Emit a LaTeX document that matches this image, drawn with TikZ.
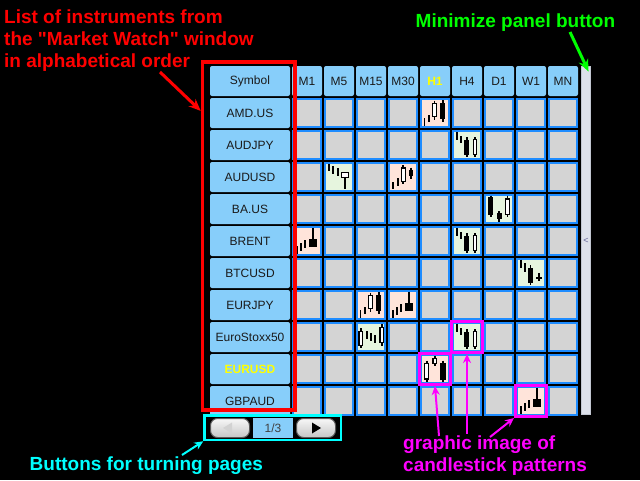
\documentclass[tikz,border=0pt]{standalone}
\usepackage{fontspec}
\setmainfont{Liberation Sans}
\newfontfamily\notefont{Liberation Sans}
\usetikzlibrary{arrows.meta,positioning,calc}

\definecolor{headblue}{HTML}{87CEFA}
\definecolor{cellgray}{HTML}{D4D4D4}
\definecolor{cellblue}{HTML}{1E8CFF}
\definecolor{bull}{RGB}{255,228,218}
\definecolor{bear}{RGB}{230,245,222}
\definecolor{hot}{HTML}{FFFF00}
\definecolor{headtext}{HTML}{1A1A1A}
\definecolor{scrollgray}{HTML}{DDE1EA}
\definecolor{scrolledge}{HTML}{C2C7D2}
\definecolor{notered}{HTML}{FF0000}
\definecolor{notegreen}{HTML}{00FF00}
\definecolor{notecyan}{HTML}{00FFFF}
\definecolor{notemag}{HTML}{FF00FF}

\tikzset{
  cell/.style={draw=cellblue,fill=cellgray,line width=2pt,minimum width=28pt,minimum height=28pt,inner sep=0pt},
  head/.style={fill=headblue,rounded corners=2pt,minimum width=30pt,minimum height=30pt,inner sep=0pt,text=headtext,font=\fontsize{12}{14}\selectfont},
  sym/.style={head,minimum width=80pt},
  hilite/.style={draw=notemag,line width=3pt,minimum width=31pt,minimum height=31pt,inner sep=0pt},
  wick/.style={line width=1.8pt,black},
  wbody/.style={fill=white,draw=black,line width=1.2pt},
  bbody/.style={fill=black},
  btn/.style={draw=gray!70!black,line width=1pt,rounded corners=7pt,top color=gray!6,bottom color=gray!45,minimum width=39pt,minimum height=19pt,inner sep=0pt},
  pagenum/.style={fill=headblue,minimum width=40pt,minimum height=20pt,inner sep=0pt,text=darkgray,font=\fontsize{12}{14}\selectfont},
  scrollbar/.style={fill=scrollgray,draw=scrolledge,line width=0.8pt,minimum width=9.2pt,minimum height=348pt,inner sep=0pt,text=gray!80!blue,font=\fontsize{9}{9}\selectfont},
  note/.style={font=\notefont\bfseries\fontsize{19}{22}\selectfont,align=left,inner sep=0pt,anchor=north west},
  redarrow/.style={draw=notered,line width=3pt,-{Stealth[length=12pt,width=10pt]}},
  greenarrow/.style={draw=notegreen,line width=3pt,-{Stealth[length=12pt,width=10pt]}},
  cyanarrow/.style={draw=notecyan,line width=2pt,-{Stealth[length=9pt,width=8pt]}},
  magarrow/.style={draw=notemag,line width=2pt,-{Stealth[length=9pt,width=8pt]}}
}

% candle pieces, cell-local (x right, y down)
\newcommand{\stick}[3]{\draw[wick] (#1,#2) -- (#1,#3);}
\newcommand{\wcdl}[6]{\draw[wick] (#1,#3) -- (#1,#6); \filldraw[wbody] (#1-#2/2,#4) rectangle (#1+#2/2,#5);}
\newcommand{\bcdl}[6]{\draw[wick] (#1,#3) -- (#1,#6); \fill[bbody] (#1-#2/2,#4) rectangle (#1+#2/2,#5);}

\newcommand{\icRiseTwo}{\stick{4.5}{20}{28}\stick{9.2}{17}{24}\wcdl{14.5}{3.6}{2.5}{5.3}{18.7}{21.5}\bcdl{22.7}{5}{2}{4.5}{20.5}{24}}
\newcommand{\icFallTwo}{\stick{4.7}{2.3}{10}\stick{9}{6}{13.3}\bcdl{14.8}{5}{7.3}{10}{25}{27.3}\wcdl{23}{3.6}{7}{9.3}{24.4}{27.3}}
\newcommand{\icHang}{\stick{4.7}{2}{8.7}\stick{9.3}{4}{12}\stick{13.7}{6.3}{14}\wcdl{21}{6.6}{10.3}{10.3}{15.7}{27.3}}
\newcommand{\icRiseStar}{\stick{5.3}{20.3}{27.3}\stick{9.7}{16.3}{23.7}\wcdl{15.2}{3.8}{3}{5.9}{19.1}{22}\bcdl{23.2}{4.3}{5.7}{8}{14}{17}}
\newcommand{\icMorning}{\bcdl{6.8}{5}{1.7}{3.3}{21}{22.7}\bcdl{15.2}{5}{17}{19.3}{25.3}{27.7}\wcdl{23.5}{3.8}{1.7}{4.9}{20.4}{22.7}}
\newcommand{\icShoot}{\stick{4.7}{20}{27.7}\stick{8.7}{17.3}{25}\stick{13}{14}{21.7}\bcdl{21.2}{8.2}{1.7}{13.3}{21}{21}}
\newcommand{\icFallCross}{\stick{5}{1.7}{9.7}\stick{9}{5.3}{13.7}\bcdl{14.5}{5.6}{7}{9.7}{24.7}{27}\bcdl{23}{6}{15.3}{18.7}{20.7}{23}}
\newcommand{\icThree}{\wcdl{4.8}{3.8}{6.3}{9.6}{23.1}{26.3}\stick{11}{9}{16.7}\stick{15}{11.3}{19}\stick{19}{13}{20.7}\wcdl{25.8}{3.8}{2}{5.3}{20.7}{23.7}}
\newcommand{\icEvening}{\wcdl{6.7}{3.8}{6.7}{9.6}{25}{27.5}\wcdl{14.8}{3.8}{1.7}{4.6}{9.4}{12.3}\bcdl{22.8}{5.5}{6.7}{9}{25.7}{27.5}}

% row, column, fill, icon
\newcommand{\patcell}[4]{%
  \begin{scope}[shift={(260+32*#2,66+32*#1)}]
    \fill[#3] (2,2) rectangle (28,28);
    #4
  \end{scope}}

\begin{document}
\begin{tikzpicture}[x=1pt,y=-1pt]
\useasboundingbox (0,0) rectangle (640,480);
\fill[black] (0,0) rectangle (640,480);

% header row
\node[sym] (s0) at (250,81) {Symbol};
\foreach \c [count=\i] in {M1,M5,M15,M30,{\color{hot}\bfseries H1},H4,D1,W1,MN}
  \node[head] (h\i) at (275+32*\i,81) {\c};

% symbols and cells
\foreach \s [count=\j] in {AMD.US,AUDJPY,AUDUSD,BA.US,BRENT,BTCUSD,EURJPY,EuroStoxx50,{\color{hot}\bfseries EURUSD},GBPAUD}{
  \node[sym] (s\j) at (250,81+32*\j) {\s};
  \foreach \k in {1,...,9}
    \node[cell] (c\j-\k) at (275+32*\k,81+32*\j) {};
}

% candlestick patterns
\foreach \r/\c/\f/\ic in {1/5/bull/\icRiseTwo,2/6/bear/\icFallTwo,3/2/bear/\icHang,3/4/bull/\icRiseStar,
    4/7/bear/\icMorning,5/1/bull/\icShoot,5/6/bear/\icFallTwo,6/8/bear/\icFallCross,7/3/bull/\icRiseTwo,
    7/4/bull/\icShoot,8/3/bear/\icThree,8/6/bear/\icFallTwo,9/5/bull/\icEvening,10/8/bull/\icShoot}
  \patcell{\r}{\c}{\f}{\ic};

\node[scrollbar] (scroll) at (586,240.5) {<};

% frames
\node[draw=notered,line width=3.5pt,minimum width=92.5pt,minimum height=348pt,inner sep=0pt] (listbox) at (248.75,236) {};
\node[hilite] (hl1) at (c8-6) {};
\node[hilite] (hl2) at (c9-5) {};
\node[hilite] (hl3) at (c10-8) {};

% page buttons
\node[btn] (prev) at (230,428) {};
\node[pagenum] (page) at (273,428) {1/3};
\node[btn] (next) at (316,428) {};
\fill[gray!35] (223,428) -- (232,422.5) -- (232,433.5) -- cycle;
\fill[black] (321,428) -- (312,422.5) -- (312,433.5) -- cycle;
\node[draw=notecyan,line width=2.5pt,minimum width=136.5pt,minimum height=24.5pt,inner sep=0pt] (pager) at (272.75,427.75) {};

% notes
\node[note,text=notered] (listnote) at (4,10) {List of instruments from\\the "Market Watch" window\\in alphabetical order};
\node[note,text=notegreen] (mininote) at (415.5,14) {Minimize panel button};
\node[note,text=notecyan] (pagenote) at (29.5,456.5) {Buttons for turning pages};
\node[note,text=notemag] (patnote) at (403,436) {graphic image of\\candlestick patterns};

\coordinate (rt) at (160,72);
\coordinate (gt) at (570,32);
\coordinate (ct) at (182,455);
\coordinate (mt1) at (439,436);
\coordinate (mt2) at (467,434);
\coordinate (mt3) at (490,437);

\draw[redarrow] (rt) -- (listbox.111);
\draw[greenarrow,shorten >=-6pt] (gt) -- (scroll.north);
\draw[cyanarrow] (ct) -- (pager.south west);
\draw[magarrow] (mt1) -- (hl2.south);
\draw[magarrow] (mt2) -- (hl1.south);
\draw[magarrow] (mt3) -- (hl3.south west);
\end{tikzpicture}
\end{document}
